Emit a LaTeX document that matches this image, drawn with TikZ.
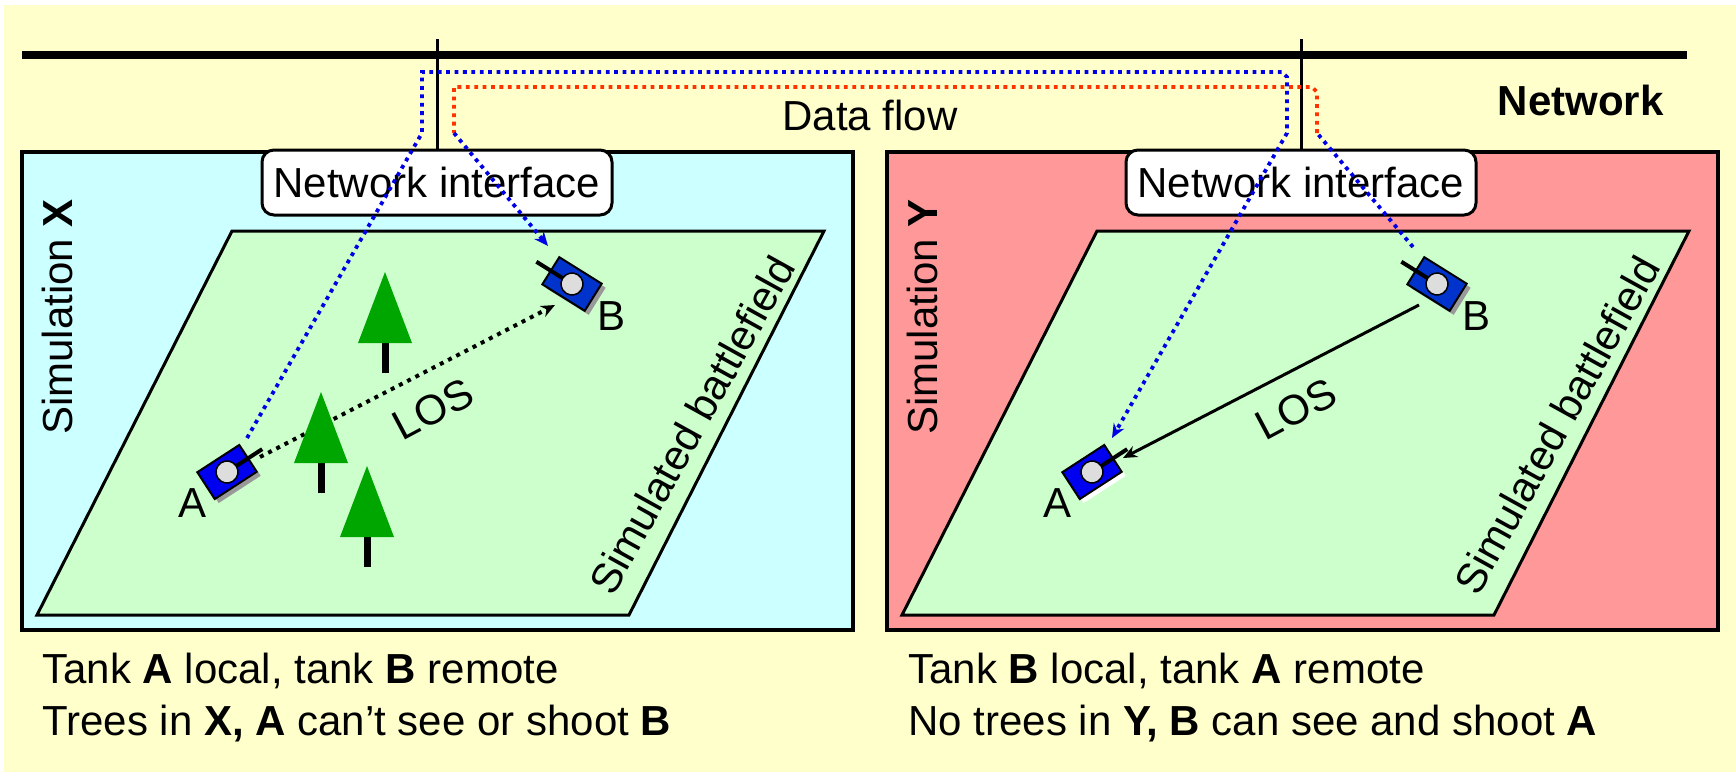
\documentclass[tikz,border=0pt]{standalone}
\usepackage{fontspec}
\setmainfont{Liberation Sans}
\usetikzlibrary{arrows.meta}

\definecolor{bgyellow}{HTML}{FFFFCC}
\definecolor{simcyan}{HTML}{CCFFFF}
\definecolor{simpink}{HTML}{FF9999}
\definecolor{fieldgreen}{HTML}{CCFFCC}
\definecolor{treegreen}{HTML}{00A600}
\definecolor{flowblue}{HTML}{0000E6}
\definecolor{flowred}{HTML}{FF3300}
\definecolor{tankAcol}{HTML}{0000F0}
\definecolor{tankBcol}{HTML}{0033CC}
\definecolor{turret}{HTML}{DDDDDD}
\definecolor{tankshadow}{HTML}{999999}

\tikzset{
  simbox/.style={draw=black, line width=2pt},
  field/.style={draw=black, line width=1.5pt, fill=fieldgreen, line join=miter},
  txt/.style={font=\fontsize{21pt}{25pt}\selectfont, inner sep=0pt},
  nibox/.style={txt, draw=black, line width=1.5pt, fill=white, rounded corners=6pt,
    minimum width=175pt, minimum height=32.5pt},
  tap/.style={line width=1.5pt},
  flow/.style={line width=1.9pt, dash pattern=on 1.9pt off 2.3pt},
  bluedot/.style={flow, draw=flowblue},
  reddot/.style={flow, draw=flowred},
  losdot/.style={line width=2pt, dash pattern=on 2pt off 2.6pt},
  flowtip/.style={-{Stealth[length=7pt,width=6pt]}},
  lostip/.style={-{Stealth[length=7pt,width=6pt]}},
}

% tank icon: x, y, heading, body colour, shadow colour
\newcommand\tankicon[5]{%
  \begin{scope}[shift={(#1+4,#2+4)}, rotate=#3]
    \fill[#5] (-25,-16) rectangle (25,16);
  \end{scope}
  \begin{scope}[shift={(#1,#2)}, rotate=#3]
    \draw[line width=1pt, fill=#4] (-25,-16) rectangle (25,16);
    \draw[line width=2pt] (0,0) -- (42,0);
    \draw[line width=0.75pt, fill=turret] (0,0) circle[radius=5.5pt];
  \end{scope}}

% pine tree: apex x, apex y
\newcommand\pinetree[2]{%
  \draw[line width=3.5pt] (#1,#2+71) -- (#1,#2+101);
  \fill[treegreen] (#1,#2) -- (#1-27,#2+71) -- (#1+27,#2+71) -- cycle;}

\begin{document}
\begin{tikzpicture}[x=0.5pt, y=-0.5pt]
  \useasboundingbox (0,0) rectangle (1736,772);
  \fill[white] (0,0) rectangle (1736,772);
  \fill[bgyellow] (4,5) rectangle (1736,772);

  % network backbone
  \coordinate (netL) at (22,55);
  \coordinate (netR) at (1687,55);
  \draw[line width=4pt] (netL) -- (netR);
  \node[txt, anchor=base east] (netlabel) at (1664,115) {\bfseries Network};
  \node[txt, anchor=base] (dataflow) at (870,130) {Data flow};

  % simulation boxes
  \draw[simbox, fill=simcyan] (22,152) rectangle (853,630);
  \draw[simbox, fill=simpink] (887,152) rectangle (1718,630);

  % battlefields
  \draw[field] (232,231) -- (824,231) -- (629,615) -- (37,615) -- cycle;
  \draw[field] (1097,231) -- (1689,231) -- (1494,615) -- (902,615) -- cycle;

  % network interfaces and taps
  \node[nibox] (niX) at (437,182.5) {Network interface};
  \node[nibox] (niY) at (1301,182.5) {Network interface};
  \draw[tap] (niX.north) -- ++(0,-110);
  \draw[tap] (niY.north) -- ++(0,-110);

  % labels
  \node[txt, anchor=base, rotate=90] (simXlabel) at (72,317) {Simulation \textbf{X}};
  \node[txt, anchor=base, rotate=90] (simYlabel) at (937,317) {Simulation \textbf{Y}};
  \node[txt, anchor=base, rotate=61] (fieldXlabel) at (705,432) {Simulated battlefield};
  \node[txt, anchor=base, rotate=61] (fieldYlabel) at (1570,432) {Simulated battlefield};

  % tank positions
  \coordinate (tankAX) at (227,472);
  \coordinate (tankBX) at (572,284);
  \coordinate (tankAY) at (1092,472);
  \coordinate (tankBY) at (1437,284);

  % line of sight
  \coordinate (losXs) at (260,457);
  \coordinate (losXe) at (555,305);
  \draw[losdot, lostip] (losXs) -- (losXe);
  \node[txt, anchor=base, rotate=28] (losX) at (440,422) {LOS};
  \coordinate (losYs) at (1419,305);
  \coordinate (losYe) at (1123,458);
  \draw[line width=1.5pt, lostip] (losYs) -- (losYe);
  \node[txt, anchor=base, rotate=28] (losY) at (1303,422) {LOS};

  % trees in X
  \pinetree{385}{272}
  \pinetree{321}{392}
  \pinetree{367}{466}

  % data flow: tank A state from X to Y
  \coordinate (aXport) at (247,438);
  \coordinate (aYport) at (1112,438);
  \draw[bluedot, flowtip] (aXport) -- (422,133) -- (422,72) -- (1282,72)
    -- (1287,77) -- (1287,133) -- (aYport);

  % data flow: tank B state from Y to X
  \coordinate (bYport) at (1413,247);
  \coordinate (bXport) at (548,246);
  \coordinate (bYup) at (1317,133);
  \coordinate (bXdown) at (454,133);
  \draw[bluedot] (bYport) -- (bYup);
  \draw[reddot] (bYup) -- (1317,92) -- (1312,87) -- (454,87) -- (bXdown);
  \draw[bluedot, flowtip] (bXdown) -- (bXport);

  % tanks
  \tankicon{227}{472}{33}{tankAcol}{tankshadow}
  \tankicon{572}{284}{148}{tankBcol}{tankshadow}
  \tankicon{1092}{472}{33}{tankAcol}{white}
  \tankicon{1437}{284}{148}{tankBcol}{tankshadow}
  \node[txt, anchor=base] (labAX) at (193,517) {A};
  \node[txt, anchor=base] (labBX) at (612,330) {B};
  \node[txt, anchor=base] (labAY) at (1057,517) {A};
  \node[txt, anchor=base] (labBY) at (1476,330) {B};

  % notes
  \node[txt, anchor=base west] (noteX1) at (42,683) {Tank \textbf{A} local, tank \textbf{B} remote};
  \node[txt, anchor=base west] (noteX2) at (42,735) {Trees in \textbf{X, A} can’t see or shoot \textbf{B}};
  \node[txt, anchor=base west] (noteY1) at (908,683) {Tank \textbf{B} local, tank \textbf{A} remote};
  \node[txt, anchor=base west] (noteY2) at (908,735) {No trees in \textbf{Y, B} can see and shoot \textbf{A}};
\end{tikzpicture}
\end{document}
